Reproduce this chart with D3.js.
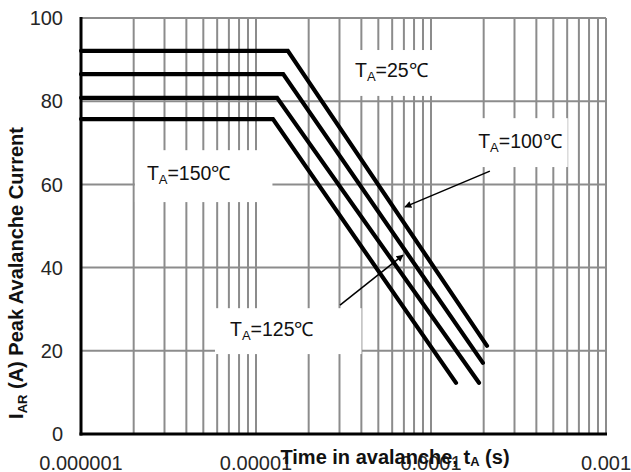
<!DOCTYPE html>
<html>
<head>
<meta charset="utf-8">
<script src="https://cdn.jsdelivr.net/npm/d3@7"></script>
<style>
  html, body { margin: 0; padding: 0; background: #fff; }
  svg { display: block; font-family: "Liberation Sans", Arial, sans-serif; }
</style>
</head>
<body>
<svg id="chart" width="631" height="472"></svg>
<script>
// Avalanche current capability vs. time in avalanche, per ambient temperature
const temperatures = ["25", "100", "125", "150"];
const startTime   = [1e-6, 1e-6, 1e-6, 1e-6];
const kneeTime    = [1.52e-5, 1.43e-5, 1.32e-5, 1.25e-5];
const peakCurrent = [92.1, 86.5, 80.8, 75.7];
const endTime     = [2.09e-4, 1.98e-4, 1.88e-4, 1.39e-4];
const endCurrent  = [21.2, 17.1, 12.3, 12.3];

const xTickValues = [1e-6, 1e-5, 1e-4, 1e-3];
const xTickLabels = ["0.000001", "0.00001", "0.0001", "0.001"];
const yTickValues = [0, 20, 40, 60, 80, 100];

// Callout labels: anchor (time, current) for text start / vertical centre
const labelTemp  = ["25", "100", "150", "125"];
const labelTime  = [3.68e-5, 1.86e-4, 2.38e-6, 7.1e-6];
const labelCurr  = [87.5, 70.4, 62.7, 25.2];
// Arrows: tail -> head in data units
const arrowTail = [[2.17e-4, 63.2], [3.02e-5, 31.0]];
const arrowHead = [[7.1e-5, 54.6], [6.92e-5, 43.0]];

const margin = { left: 81, top: 18, right: 25, bottom: 38 };
const W = 631, H = 472;
const svg = d3.select("#chart");

const x = d3.scaleLog().domain([1e-6, 1e-3]).range([margin.left, W - margin.right]);
const y = d3.scaleLinear().domain([0, 100]).range([H - margin.bottom, margin.top]);

const gridColor = "#8c8c8c";
const textColor = "#262626";

// vertical grid: 1..9 per decade
const minor = [];
for (let e = -6; e < -3; e++) for (let m = 1; m < 10; m++) minor.push(m * Math.pow(10, e));
minor.push(1e-3);
svg.append("g").selectAll("line").data(minor).join("line")
  .attr("x1", d => x(d)).attr("x2", d => x(d))
  .attr("y1", y(0)).attr("y2", y(100))
  .attr("stroke", gridColor).attr("stroke-width", 2);

// horizontal grid
svg.append("g").selectAll("line").data(yTickValues.filter(v => v > 0)).join("line")
  .attr("x1", x(1e-6)).attr("x2", x(1e-3))
  .attr("y1", d => y(d)).attr("y2", d => y(d))
  .attr("stroke", gridColor).attr("stroke-width", 2);

// axes (left and bottom drawn heavy)
svg.append("line").attr("x1", x(1e-6)).attr("x2", x(1e-6))
  .attr("y1", y(100) - 1).attr("y2", y(0) + 1.5)
  .attr("stroke", "#000").attr("stroke-width", 3);
svg.append("line").attr("x1", x(1e-6) - 1.5).attr("x2", x(1e-3) + 1)
  .attr("y1", y(0)).attr("y2", y(0))
  .attr("stroke", "#000").attr("stroke-width", 3);

// tick labels
svg.append("g").selectAll("text").data(yTickValues).join("text")
  .attr("x", 63).attr("y", d => y(d)).attr("dy", "0.36em")
  .attr("text-anchor", "end").attr("font-size", 20).attr("fill", textColor)
  .text(d => d);
svg.append("g").selectAll("text").data(xTickValues).join("text")
  .attr("x", d => x(d)).attr("y", 470)
  .attr("text-anchor", "middle").attr("font-size", 20).attr("fill", textColor)
  .text((d, i) => xTickLabels[i]);

// callout label boxes + text
const labelG = svg.append("g");
const labelPads = [[12, 9, 14, 12], [8, 12, 6, 12], [12, 12, 42, 15], [15, 10, 48, 11]];
labelTemp.forEach((t, i) => {
  const g = labelG.append("g");
  const txt = g.append("text")
    .attr("x", x(labelTime[i])).attr("y", y(labelCurr[i])).attr("dy", "0.36em")
    .attr("font-size", 19.5).attr("fill", "#111");
  txt.append("tspan").text("T");
  txt.append("tspan").attr("font-size", 13).attr("dy", "0.3em").text("A");
  txt.append("tspan").attr("dy", "-0.2em").text("=" + t + "℃");
  const b = txt.node().getBBox();
  const p = labelPads[i];
  g.insert("rect", "text")
    .attr("x", b.x - p[0]).attr("y", b.y - p[1])
    .attr("width", b.width + p[0] + p[2]).attr("height", b.height + p[1] + p[3])
    .attr("fill", "#fff");
});

// curves
const line = d3.line().x(d => x(d[0])).y(d => y(d[1]));
const curves = temperatures.map((t, i) => [
  [startTime[i], peakCurrent[i]],
  [kneeTime[i], peakCurrent[i]],
  [endTime[i], endCurrent[i]]
]);
svg.append("g").selectAll("path").data(curves).join("path")
  .attr("d", line)
  .attr("fill", "none").attr("stroke", "#000").attr("stroke-width", 4.2)
  .attr("stroke-linejoin", "miter").attr("stroke-linecap", "round");

// arrows
svg.append("defs").append("marker")
  .attr("id", "head").attr("viewBox", "0 0 10 10")
  .attr("refX", 9).attr("refY", 5)
  .attr("markerWidth", 9).attr("markerHeight", 7)
  .attr("markerUnits", "userSpaceOnUse")
  .attr("orient", "auto")
  .append("path").attr("d", "M0,0 L10,5 L0,10 Z").attr("fill", "#000");
svg.append("g").selectAll("line").data(arrowTail).join("line")
  .attr("x1", d => x(d[0])).attr("y1", d => y(d[1]))
  .attr("x2", (d, i) => x(arrowHead[i][0])).attr("y2", (d, i) => y(arrowHead[i][1]))
  .attr("stroke", "#000").attr("stroke-width", 1.5)
  .attr("marker-end", "url(#head)");

// axis titles
const xt = svg.append("text").attr("x", 395).attr("y", 464)
  .attr("text-anchor", "middle").attr("font-size", 20).attr("font-weight", "bold").attr("fill", "#111");
xt.append("tspan").text("Time in avalanche, t");
xt.append("tspan").attr("font-size", 13).attr("dy", "0.15em").text("A");
xt.append("tspan").attr("dy", "-0.1em").text(" (s)");

const yt = svg.append("text")
  .attr("transform", "translate(23," + 273 + ") rotate(-90)")
  .attr("text-anchor", "middle").attr("font-size", 20).attr("font-weight", "bold").attr("fill", "#111");
yt.append("tspan").text("I");
yt.append("tspan").attr("font-size", 13).attr("dy", "0.3em").text("AR");
yt.append("tspan").attr("dy", "-0.2em").text(" (A) Peak Avalanche Current");
</script>
</body>
</html>
